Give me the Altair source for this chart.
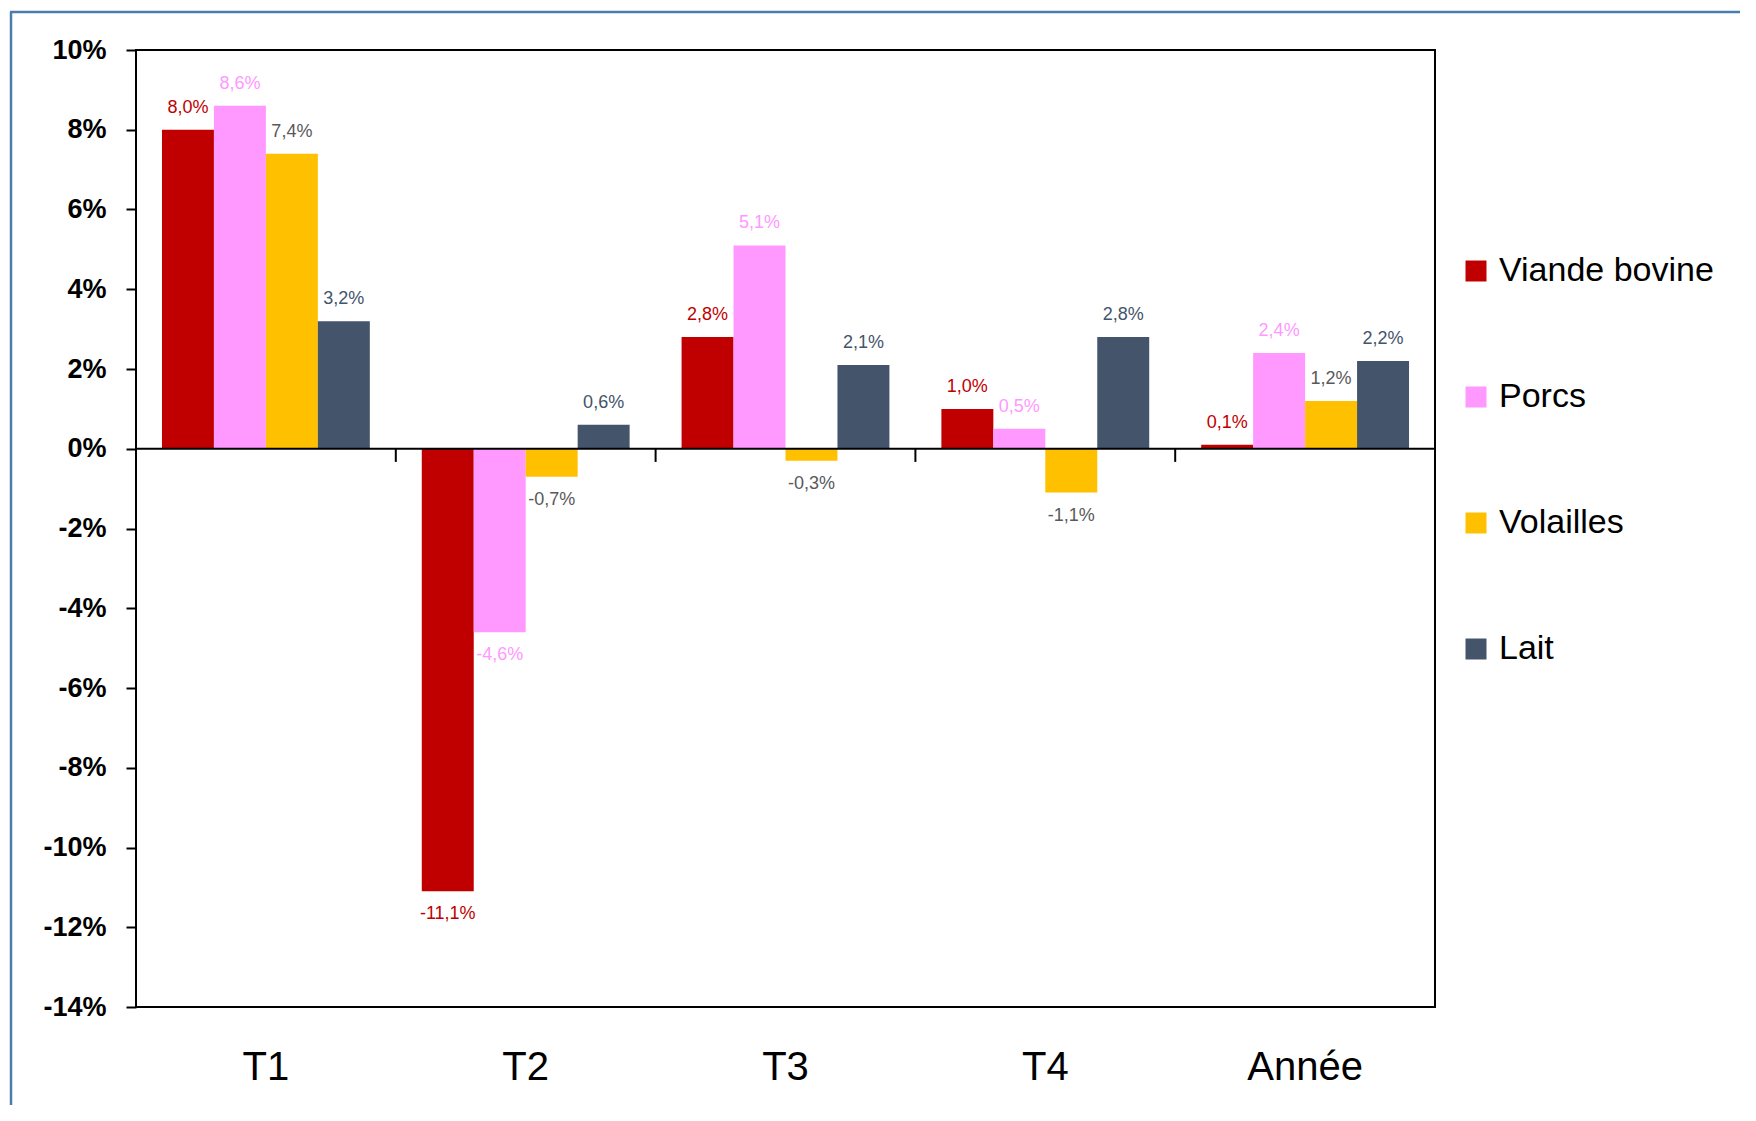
import altair as alt
import pandas as pd

categories = ["T1", "T2", "T3", "T4", "Année"]
series = ["Viande bovine", "Porcs", "Volailles", "Lait"]
viande = [8.0, -11.1, 2.8, 1.0, 0.1]
porcs = [8.6, -4.6, 5.1, 0.5, 2.4]
volailles = [7.4, -0.7, -0.3, -1.1, 1.2]
lait = [3.2, 0.6, 2.1, 2.8, 2.2]

bar_colors = ["#c00000", "#ff99ff", "#ffc000", "#44546a"]
label_colors = ["#c00000", "#ff99ff", "#595959", "#44546a"]

rows = []
for s, vals in zip(series, [viande, porcs, volailles, lait]):
    for c, v in zip(categories, vals):
        rows.append({"cat": c, "series": s, "value": v,
                     "label": f"{v:.1f}".replace(".", ",") + "%"})
df = pd.DataFrame(rows)

FONT = "Liberation Sans"

x_enc = alt.X("cat:N", sort=categories,
              scale=alt.Scale(paddingInner=0, paddingOuter=0),
              axis=alt.Axis(title=None, labelFontSize=40, labelFont=FONT, labelColor="black",
                            labelAngle=0, ticks=False, domain=False, labelPadding=60,
                            labelBaseline="middle"))
y_enc = alt.Y("value:Q", scale=alt.Scale(domain=[-14, 10], nice=False),
              axis=alt.Axis(title=None, values=list(range(-14, 11, 2)),
                            labelExpr="datum.value + '%'", labelFontSize=27,
                            labelFont=FONT, labelFontWeight="bold", labelColor="black",
                            tickColor="black", tickWidth=2, tickSize=10, labelPadding=20,
                            domain=False, grid=False))
xoff = alt.XOffset("series:N", sort=series,
                   scale=alt.Scale(domain=series, paddingOuter=0.5, paddingInner=0))

base = alt.Chart(df)

bars = base.mark_bar().encode(
    x=x_enc, y=y_enc, xOffset=xoff,
    color=alt.Color("series:N", sort=series,
                    scale=alt.Scale(domain=series, range=bar_colors),
                    legend=alt.Legend(title=None, orient="none", legendX=1323, legendY=204,
                                      symbolType="square", symbolSize=441, symbolStrokeWidth=0,
                                      labelFontSize=34, labelFont=FONT, labelColor="black",
                                      labelOffset=6, rowPadding=92, padding=0,
                                      labelLimit=400)),
)

lbl_color = alt.Color("series:N", scale=alt.Scale(domain=series, range=label_colors), legend=None)

text_pos = base.transform_filter("datum.value >= 0").mark_text(
    fontSize=18, font=FONT, baseline="middle", dy=-22).encode(
    x=alt.X("cat:N", sort=categories), y="value:Q", xOffset=xoff, text="label:N", color=lbl_color)

text_neg = base.transform_filter("datum.value < 0").mark_text(
    fontSize=18, font=FONT, baseline="middle", dy=23).encode(
    x=alt.X("cat:N", sort=categories), y="value:Q", xOffset=xoff, text="label:N", color=lbl_color)

zero = alt.Chart(pd.DataFrame({"z": [0]})).mark_rule(color="black", strokeWidth=2).encode(
    y="z:Q")

sep = alt.Chart(pd.DataFrame({"cat": categories})).mark_rule(color="black", strokeWidth=2).encode(
    x=alt.X("cat:N", sort=categories, bandPosition=0),
    y=alt.datum(0), y2=alt.datum(-0.33))

frame_left = alt.Chart(pd.DataFrame({"a": [0]})).mark_rule(color="#4a7cb0", strokeWidth=2.5).encode(
    x=alt.value(-125), y=alt.value(-38), y2=alt.value(1080))
frame_top = alt.Chart(pd.DataFrame({"a": [0]})).mark_rule(color="#4a7cb0", strokeWidth=2.5).encode(
    x=alt.value(-126), x2=alt.value(1620), y=alt.value(-38))

chart = alt.layer(bars, text_pos, text_neg, zero, sep, frame_left, frame_top).resolve_scale(
    color="independent"
).properties(
    width=1299, height=957,
    autosize=alt.AutoSizeParams(type="none"),
    padding={"left": 128, "top": 42, "right": 305, "bottom": 98},
).configure(
    background="white",
    view=alt.ViewConfig(stroke="black", strokeWidth=2),
)

chart.save("out.html", embed_options={"renderer": "svg", "actions": False})
